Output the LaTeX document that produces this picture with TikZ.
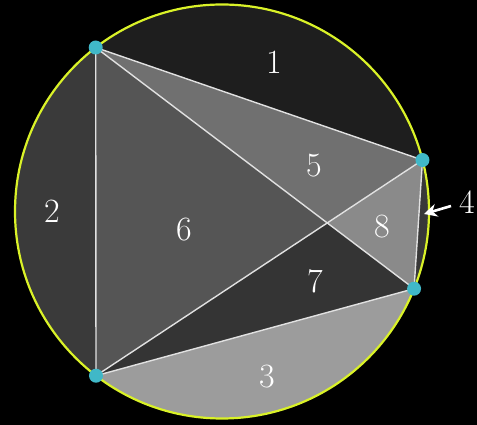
\documentclass[tikz,border=0pt]{standalone}
\usetikzlibrary{calc,arrows.meta}
\definecolor{rimcol}{RGB}{218,242,40}
\definecolor{dotcol}{RGB}{64,184,200}
\definecolor{cone}{RGB}{30,30,30}
\definecolor{ctwo}{RGB}{58,58,58}
\definecolor{cthree}{RGB}{156,156,156}
\definecolor{cfour}{RGB}{56,56,56}
\definecolor{cfive}{RGB}{112,112,112}
\definecolor{csix}{RGB}{85,85,85}
\definecolor{cseven}{RGB}{52,52,52}
\definecolor{ceight}{RGB}{138,138,138}
\definecolor{chordcol}{RGB}{225,225,225}
\tikzset{
  chord/.style={draw=chordcol,line width=1.4pt},
  rim/.style={draw=rimcol,line width=2.2pt},
  vdot/.style={circle,fill=dotcol,inner sep=0pt,minimum size=14pt},
  num/.style={text=white,font=\fontsize{34}{34}\selectfont,inner sep=0pt},
  pointer/.style={draw=white,line width=2.6pt,-{Stealth[length=13pt,width=13pt]}}
}
\begin{document}
\begin{tikzpicture}[x=1pt,y=1pt]
\useasboundingbox (0,0) rectangle (477,425);
\fill[black] (0,0) rectangle (477,425);
\coordinate (O) at (222,213.5);
\def\R{207}
\coordinate (A) at ($(O)+(127.6:\R)$);
\coordinate (B) at ($(O)+(14.4:\R)$);
\coordinate (C) at ($(O)+(-21.9:\R)$);
\coordinate (D) at ($(O)+(-127.5:\R)$);
\coordinate (X) at (intersection of A--C and B--D);
% circular segments
\fill[cone] (A) arc[start angle=127.6,end angle=14.4,radius=\R] -- cycle;
\fill[cfour] (B) arc[start angle=14.4,end angle=-21.9,radius=\R] -- cycle;
\fill[cthree] (C) arc[start angle=-21.9,end angle=-127.5,radius=\R] -- cycle;
\fill[ctwo] (D) arc[start angle=-127.5,end angle=-232.4,radius=\R] -- cycle;
% triangles
\fill[cfive] (A) -- (B) -- (X) -- cycle;
\fill[ceight] (B) -- (C) -- (X) -- cycle;
\fill[cseven] (C) -- (D) -- (X) -- cycle;
\fill[csix] (D) -- (A) -- (X) -- cycle;
% chords
\draw[chord] (A) -- (B);
\draw[chord] (B) -- (C);
\draw[chord] (C) -- (D);
\draw[chord] (D) -- (A);
\draw[chord] (A) -- (C);
\draw[chord] (B) -- (D);
% rim
\draw[rim] (O) circle[radius=\R];
% vertices
\node[vdot] (vA) at (A) {};
\node[vdot] (vB) at (B) {};
\node[vdot] (vC) at (C) {};
\node[vdot] (vD) at (D) {};
% labels
\node[num] (l1) at (274,363) {1};
\node[num] (l2) at (52,214) {2};
\node[num] (l3) at (267,48) {3};
\node[num] (l4) at (467,223) {4};
\node[num] (l5) at (314,259) {5};
\node[num] (l6) at (184,195) {6};
\node[num] (l7) at (315,144) {7};
\node[num] (l8) at (382,198) {8};
\coordinate (tail) at (451,219);
\coordinate (tip) at (424,211);
\draw[pointer] (tail) -- (tip);
\end{tikzpicture}
\end{document}
